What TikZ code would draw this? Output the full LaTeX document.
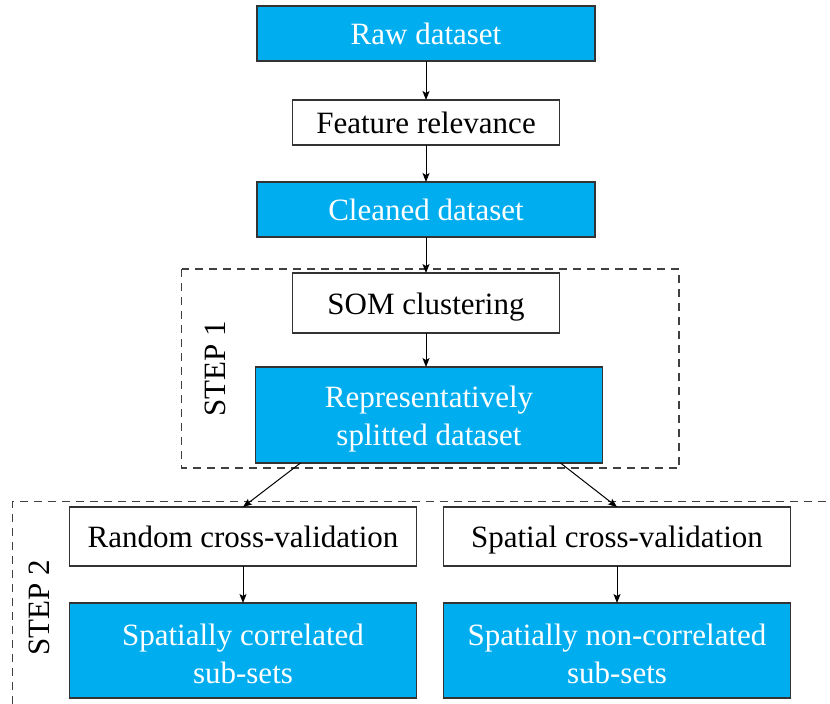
\documentclass[tikz,border=0pt]{standalone}
\usepackage{fontspec}
\setmainfont{Liberation Serif}
\usetikzlibrary{arrows.meta,positioning}
\definecolor{boxblue}{HTML}{00AEEF}
\definecolor{edgegray}{HTML}{333333}
\newcommand{\firstline}{\rule{0pt}{14.5pt}}

\begin{document}
\begin{tikzpicture}[
  node distance=18pt,
  every node/.style={font=\fontsize{15.5}{19}\selectfont},
  plain/.style={draw=edgegray, line width=0.75pt, align=center, inner sep=0pt, outer sep=0pt, minimum height=22.5pt, minimum width=133.5pt},
  filled/.style={plain, fill=boxblue, text=white, minimum height=27.5pt, minimum width=169pt},
  oneline/.style={text height=13.5pt, text depth=2.5pt},
  wide/.style={minimum width=173.5pt},
  frame/.style={dash pattern=on 4pt off 3pt, draw=black!75, line width=0.7pt},
  arr/.style={-{Stealth[length=4.5pt,width=3.5pt,inset=1pt]}, line width=0.5pt}
]
\useasboundingbox (0,0) rectangle (415pt,-351.5pt);
\node[filled, oneline] (raw) at (213pt,-16.75pt) {Raw dataset};
\node[plain, oneline, below=19.5pt of raw] (feat) {Feature relevance};
\node[filled, oneline, below=18.5pt of feat] (clean) {Cleaned dataset};
\node[plain, oneline, below=18pt of clean, minimum height=30pt] (som) {SOM clustering};
\node[filled, wide, below=17pt of som, xshift=1.5pt, minimum height=48pt] (split) {\firstline Representatively\\ splitted dataset};
\node[plain, wide, oneline, below=22pt of split, xshift=-93pt, minimum height=29.5pt] (randcv) {Random cross-validation};
\node[plain, wide, oneline, right=13.5pt of randcv, minimum height=29.5pt] (spatcv) {Spatial cross-validation};
\node[filled, wide, below=18.5pt of randcv, minimum height=47.5pt] (corr) {\firstline Spatially correlated\\ sub-sets};
\node[filled, wide, below=18.5pt of spatcv, minimum height=47.5pt] (noncorr) {\firstline Spatially non-correlated\\ sub-sets};
% dashed step frames
\draw[frame] (90.75pt,-134.5pt) rectangle (339.5pt,-234pt);
\draw[frame] (6.15pt,-352pt) -- (6.15pt,-250.85pt) -- (416pt,-250.85pt);
\node[rotate=90] (step1) at (107.5pt,-184.25pt) {STEP 1};
\node[rotate=90] (step2) at (19.75pt,-303.75pt) {STEP 2};
% arrows
\draw[arr] (raw) -- (feat);
\draw[arr] (feat) -- (clean);
\draw[arr] (clean) -- (som);
\draw[arr] (som.south) -- (som.south |- split.north);
\draw[arr] ([xshift=22.5pt]split.south west) -- (randcv.north);
\draw[arr] ([xshift=-21pt]split.south east) -- (spatcv.north);
\draw[arr] (randcv) -- (corr);
\draw[arr] (spatcv) -- (noncorr);
\end{tikzpicture}
\end{document}
